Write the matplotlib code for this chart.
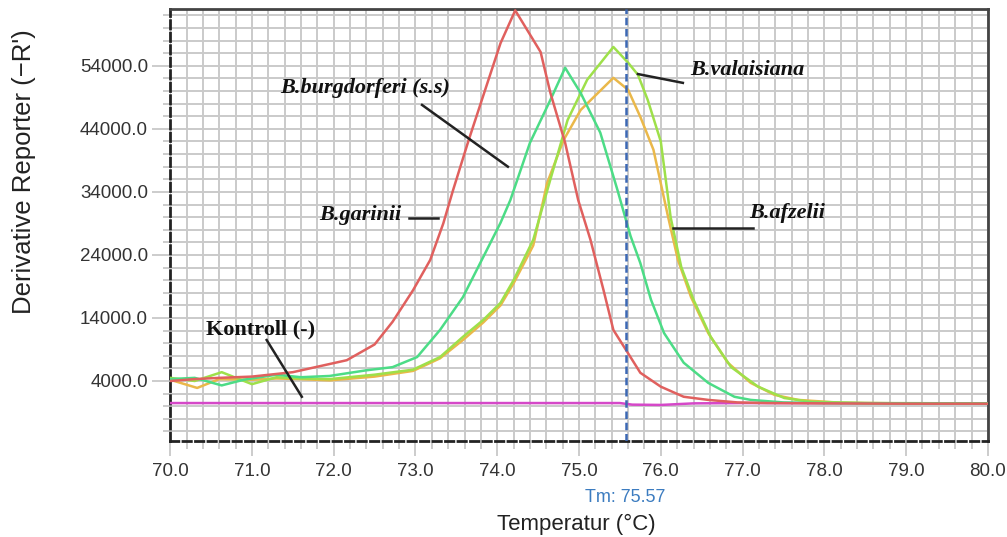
import numpy as np
import matplotlib
matplotlib.use('Agg')
import matplotlib.pyplot as plt
from matplotlib.ticker import MultipleLocator, FormatStrFormatter

# melt curves (temperature in C, derivative reporter)
burg_x = [70.0, 70.3, 70.6, 71.0, 71.5, 72.16, 72.5, 72.72, 72.97, 73.18, 73.34, 73.46,
          73.65, 73.88, 74.04, 74.22, 74.53, 74.65, 74.83, 74.99, 75.14, 75.30, 75.42,
          75.60, 75.75, 76.0, 76.28, 76.58, 76.94, 77.3, 78.0, 79.0, 80.0]
burg_y = [4000, 4300, 4500, 4700, 5400, 7300, 9800, 13400, 18400, 23200, 29000, 34300,
          42200, 51300, 57600, 62800, 56200, 49700, 41800, 32700, 26400, 18400, 12100,
          8400, 5300, 3100, 1500, 1000, 600, 500, 450, 400, 400]

gar_x = [70.0, 70.3, 70.63, 70.9, 71.3, 71.6, 71.95, 72.4, 72.72, 73.02, 73.30, 73.58,
         73.83, 74.04, 74.16, 74.40, 74.65, 74.83, 75.02, 75.26, 75.47, 75.63, 75.75,
         75.88, 76.04, 76.28, 76.58, 76.90, 77.10, 77.5, 78.0, 79.0, 80.0]
gar_y = [4300, 4500, 3300, 4200, 5000, 4600, 4800, 5700, 6200, 7800, 12100, 17300,
         23700, 29100, 32700, 41800, 48600, 53700, 49700, 43400, 34300, 27000, 22700,
         16900, 11600, 6900, 3700, 1500, 1000, 600, 500, 450, 450]

val_x = [70.0, 70.3, 70.63, 71.0, 71.3, 71.6, 71.95, 72.5, 72.97, 73.30, 73.58, 73.83,
         74.04, 74.20, 74.44, 74.65, 74.86, 75.10, 75.42, 75.60, 75.72, 75.84, 76.0,
         76.12, 76.25, 76.40, 76.61, 76.86, 77.19, 77.51, 77.84, 78.5, 80.0]
val_y = [4500, 4000, 5400, 3500, 4600, 4400, 4300, 5000, 5800, 7800, 11000, 13700,
         16400, 20000, 26400, 36000, 45400, 51800, 57000, 54500, 52600, 48600, 42000,
         30000, 22100, 16900, 11000, 6200, 3100, 1300, 700, 500, 450]

afz_x = [70.0, 70.33, 70.6, 71.0, 71.3, 71.6, 71.95, 72.5, 72.97, 73.30, 73.58, 73.83,
         74.04, 74.20, 74.44, 74.61, 74.81, 75.02, 75.42, 75.60, 75.75, 75.91, 76.09,
         76.21, 76.37, 76.58, 76.82, 77.10, 77.39, 77.68, 78.2, 79.0, 80.0]
afz_y = [4200, 2900, 4300, 4200, 4400, 4300, 4100, 4700, 5600, 7600, 10500, 13300,
         16000, 19500, 25500, 35400, 42200, 47000, 52100, 50200, 45900, 40700, 30000,
         23200, 17300, 11600, 6900, 3700, 1800, 1000, 550, 450, 450]

ctrl_x = [70.0, 75.5, 75.65, 76.0, 76.4, 77.0, 80.0]
ctrl_y = [500, 500, 250, 200, 450, 500, 450]

tm = 75.57

fig = plt.figure(figsize=(10.07, 5.37), dpi=100)
ax = fig.add_axes([0.169, 0.179, 0.812, 0.804])

ax.plot(ctrl_x, ctrl_y, color='#d548c8', lw=1.8, zorder=3)
ax.plot(afz_x, afz_y, color='#eab84a', lw=1.8, zorder=3)
ax.plot(val_x, val_y, color='#9ee04a', lw=1.8, zorder=3)
ax.plot(gar_x, gar_y, color='#4cdc86', lw=1.8, zorder=3)
ax.plot(burg_x, burg_y, color='#e0605e', lw=1.8, zorder=4)

ax.axvline(tm, color='#3c68b4', lw=1.8, ls=(0, (3, 1.5)), zorder=5)

ax.set_xlim(70, 80)
ax.set_ylim(-5500, 63000)
ax.xaxis.set_major_locator(MultipleLocator(1))
ax.xaxis.set_minor_locator(MultipleLocator(0.2))
ax.yaxis.set_minor_locator(MultipleLocator(2000))
ax.xaxis.set_major_formatter(FormatStrFormatter('%.1f'))
ax.yaxis.set_major_formatter(FormatStrFormatter('%.1f'))
ax.set_yticks([4000, 14000, 24000, 34000, 44000, 54000])

ax.grid(which='both', color='#cacaca', lw=1.4, zorder=0)
ax.set_axisbelow(True)
ax.tick_params(axis='y', which='major', length=13, width=1.2, color='#c4c4c4',
               labelsize=13.5, labelcolor='#333333', pad=3)
ax.tick_params(axis='y', which='minor', length=5, width=1.2, color='#c4c4c4')
ax.tick_params(axis='x', which='major', length=11, width=1.2, color='#c4c4c4',
               labelsize=13.5, labelcolor='#333333', pad=5)
ax.tick_params(axis='x', which='minor', length=6, width=1.2, color='#c4c4c4')
for lab in ax.get_xticklabels() + ax.get_yticklabels():
    lab.set_fontfamily('Liberation Sans')

for side in ['left', 'bottom']:
    ax.spines[side].set_linestyle((0, (3, 1.5)))
    ax.spines[side].set_linewidth(2)
    ax.spines[side].set_color('#222222')
for side in ['top', 'right']:
    ax.spines[side].set_linewidth(2)
    ax.spines[side].set_color('#444444')

# annotations
tfont = dict(family='Liberation Serif', weight='bold', style='italic', size=16,
             color='#111111', ha='center', va='center', zorder=6)
ax.text(72.38, 50500, 'B.burgdorferi (s.s)', **tfont)
ax.plot([73.08, 74.13], [47800, 38000], color='#222222', lw=1.8, zorder=6)
ax.text(72.33, 30350, 'B.garinii', **tfont)
ax.plot([72.92, 73.28], [29900, 29900], color='#222222', lw=1.8, zorder=6)
ax.text(71.10, 12100, 'Kontroll (-)', family='Liberation Serif', weight='bold',
        size=16, color='#111111', ha='center', va='center', zorder=6)
ax.plot([71.18, 71.61], [10500, 1500], color='#222222', lw=1.8, zorder=6)
ax.text(77.06, 53350, 'B.valaisiana', **tfont)
ax.plot([75.72, 76.27], [52700, 51300], color='#222222', lw=1.8, zorder=6)
ax.text(77.55, 30660, 'B.afzelii', **tfont)
ax.plot([76.15, 77.13], [28300, 28300], color='#222222', lw=1.8, zorder=6)

ax.text(tm, -0.13, 'Tm: %.2f' % tm, transform=ax.get_xaxis_transform(),
        ha='center', va='center', color='#3c7cc0', fontsize=13,
        family='Liberation Sans')
fig.text(0.572, 0.024, 'Temperatur (°C)', ha='center', va='center',
         fontsize=16, family='Liberation Sans', color='#222222')
fig.text(0.024, 0.68, "Derivative Reporter (\u2212R')", rotation=90,
         ha='center', va='center', fontsize=18.5, family='Liberation Sans',
         color='#222222')

fig.savefig('out.png', dpi=100)
